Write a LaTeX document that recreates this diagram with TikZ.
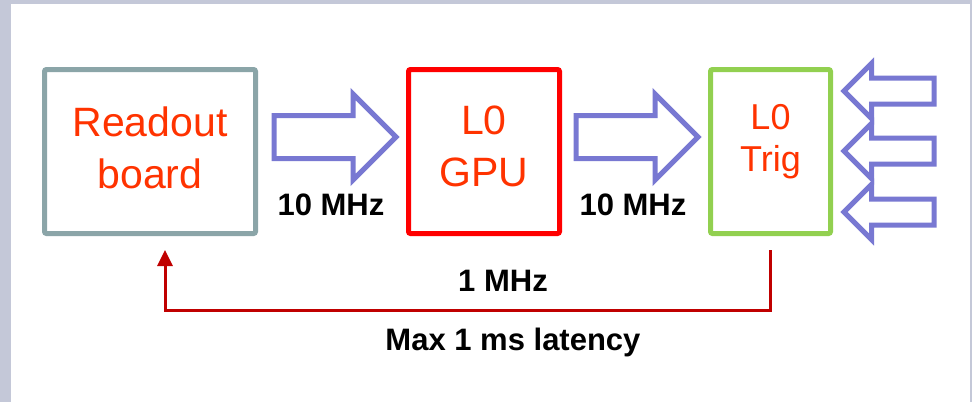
\documentclass[tikz,border=0pt]{standalone}
\usepackage{fontspec}
\setmainfont{Liberation Sans}
\usetikzlibrary{arrows.meta,positioning,calc,shapes.arrows}
\definecolor{slidebg}{RGB}{196,200,216}
\definecolor{readoutgray}{RGB}{139,165,168}
\definecolor{gpured}{RGB}{255,0,0}
\definecolor{triggreen}{RGB}{146,208,80}
\definecolor{labelred}{RGB}{255,51,0}
\definecolor{flowblue}{RGB}{120,120,210}
\definecolor{latencyred}{RGB}{192,0,0}

\begin{document}
\begin{tikzpicture}[x=1pt, y=-1pt,
    box/.style={draw, line width=5pt, rounded corners=2pt, fill=white, minimum height=164pt, inner sep=0pt},
    boxtext/.style={text=labelred, align=center, font=\fontsize{41}{52}\selectfont},
    rate/.style={anchor=base, font=\bfseries\fontsize{31}{36}\selectfont},
    flow/.style={single arrow, draw=flowblue, line width=5pt, fill=white, inner xsep=0pt,
        single arrow head indent=0pt, anchor=tail}
]

    % Slide background
    \fill[slidebg] (0,0) rectangle (972,402);
    \fill[white] (11,4) rectangle (970,402);
    \useasboundingbox (0,0) rectangle (972,402);

    % Boxes
    \node[box, draw=readoutgray, minimum width=211pt] (readout) at (150,151.5) {};
    \node[box, draw=gpured, minimum width=151pt] (gpu) at (484,151.5) {};
    \node[box, draw=triggreen, minimum width=120pt] (trig) at (770.5,151.5) {};

    \node[boxtext] (readouttxt) at (150,148) {Readout\\board};
    \node[boxtext] (gputxt) at (484,146) {L0\\GPU};
    \node[boxtext, font=\fontsize{36}{42}\selectfont] (trigtxt) at (770.5,142) {L0\\Trig};

    % Block arrows between the boxes
    \foreach \x/\name in {271.5/ro2gpu, 573.5/gpu2trig} {
        \node[flow, inner ysep=19pt, minimum height=122pt, single arrow head extend=21.5pt]
            (\name) at (\x,137) {};
    }

    % Incoming arrows on the right
    \foreach \y [count=\i] in {91,151,212} {
        \node[flow, shape border rotate=180, inner ysep=10.5pt, minimum height=90pt,
            single arrow head extend=14.5pt] (ext\i) at (936.5,\y) {};
    }

    % Rates
    \node[rate] (rate1) at (331,215) {10 MHz};
    \node[rate] (rate2) at (633,215) {10 MHz};

    % Feedback to the readout board
    \coordinate (fbout) at (770,250);
    \coordinate (fbin) at (165,250);
    \draw[latencyred, line width=3pt, -{Triangle[width=15pt,length=16pt]}]
        (fbout) |- (fbin |- 0,310) -- (fbin);
    \node[rate] (rate3) at (503,291) {1 MHz};
    \node[rate] (latency) at (513,350) {Max 1 ms latency};

\end{tikzpicture}
\end{document}
